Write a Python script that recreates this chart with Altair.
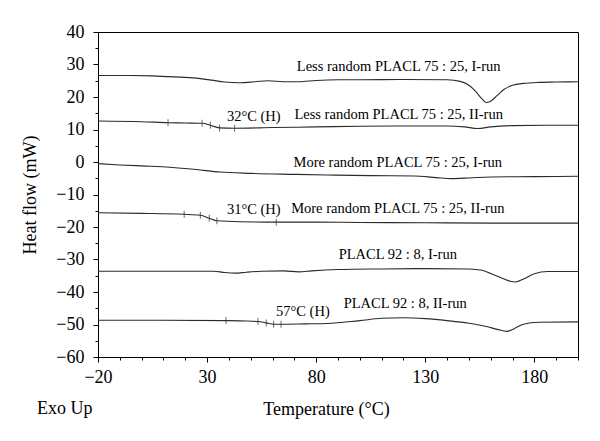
import altair as alt
import pandas as pd

FONT = "Liberation Serif"

# ---------------- data ----------------
series_names = [
    "Less random I-run", "Less random II-run", "More random I-run",
    "More random II-run", "PLACL 92:8 I-run", "PLACL 92:8 II-run",
]

x1 = [-20, -5, 5, 15, 25, 32, 38, 45, 52, 58, 65, 72, 80, 90, 100, 120, 140, 146, 150, 153, 156, 158, 160, 163, 166, 170, 175, 182, 190, 200]
y1 = [26.6, 26.6, 26.5, 26.2, 25.8, 25.2, 24.6, 24.4, 24.7, 25.0, 24.7, 24.7, 25.1, 25.3, 25.3, 25.4, 25.3, 24.8, 23.6, 21.8, 19.4, 18.3, 18.7, 20.5, 22.3, 23.6, 24.2, 24.5, 24.6, 24.7]

x2 = [-20, 0, 12.1, 20, 27.7, 31.5, 35.7, 42.6, 60, 80, 100, 120, 140, 148, 154, 160, 170, 185, 200]
y2 = [12.6, 12.4, 12.1, 12.0, 11.9, 11.3, 10.5, 10.4, 10.6, 10.8, 11.0, 11.1, 11.1, 10.8, 10.3, 10.8, 11.2, 11.3, 11.3]

x3 = [-20, -10, 0, 13, 25, 36, 50, 70, 85, 105, 125, 135, 142, 150, 160, 180, 200]
y3 = [-0.5, -0.9, -1.2, -1.6, -2.3, -3.1, -3.5, -3.8, -4.0, -4.2, -4.3, -4.8, -5.1, -4.9, -4.6, -4.5, -4.4]

x4 = [-20, 0, 19.5, 26.9, 31, 34.5, 45, 61.7, 80, 100, 130, 160, 200]
y4 = [-15.6, -15.8, -16.1, -16.4, -17.3, -18.1, -18.4, -18.5, -18.5, -18.6, -18.7, -18.8, -18.8]

x5 = [-20, 10, 33, 38, 43, 48, 55, 65, 72, 78, 90, 110, 130, 150, 156, 160, 165, 169, 171.5, 175, 180, 186, 200]
y5 = [-33.6, -33.6, -33.6, -34.0, -34.2, -33.9, -33.6, -33.5, -33.8, -33.5, -33.1, -32.9, -32.8, -32.9, -33.3, -34.3, -35.7, -36.7, -36.9, -36.0, -34.4, -33.7, -33.7]

x6 = [-20, 10, 38.7, 48, 53.3, 57.1, 60.5, 63.9, 75, 85, 100, 110, 120, 130, 140, 150, 158, 163, 167.5, 171, 175, 182, 200]
y6 = [-48.7, -48.7, -48.8, -48.9, -49.1, -49.5, -49.9, -49.9, -49.8, -49.7, -48.8, -48.1, -47.9, -48.2, -48.8, -49.6, -50.6, -51.5, -52.1, -51.2, -49.9, -49.3, -49.2]

# small vertical markers on the II-run curves
mark_x = [12.1, 27.7, 31.5, 35.7, 42.6, 19.5, 26.9, 31, 34.5, 61.7, 38.7, 53.3, 57.1, 60.5, 63.9]
mark_y = [12.1, 11.9, 11.3, 10.5, 10.4, -16.1, -16.4, -17.3, -18.1, -18.5, -48.8, -49.1, -49.5, -49.9, -49.9]

# curve labels
label_text = [
    "Less random PLACL 75 : 25, I-run",
    "Less random PLACL 75 : 25, II-run",
    "More random PLACL 75 : 25, I-run",
    "More random PLACL 75 : 25, II-run",
    "PLACL 92 : 8, I-run",
    "PLACL 92 : 8, II-run",
    "32°C (H)",
    "31°C (H)",
    "57°C (H)",
]
label_x = [117.8, 117.8, 117.4, 117.4, 117.4, 120.8, 51.4, 51.4, 73.9]
label_y = [29.2, 14.6, -0.3, -14.6, -28.7, -43.8, 13.75, -14.9, -46.2]

corner_text = ["Exo Up"]

x_tick_values = list(range(-20, 201, 10))
y_tick_values = list(range(-60, 41, 5))

# ---------------- build tables ----------------
xs_all = [x1, x2, x3, x4, x5, x6]
ys_all = [y1, y2, y3, y4, y5, y6]
rows = []
for name, xs, ys in zip(series_names, xs_all, ys_all):
    for xv, yv in zip(xs, ys):
        rows.append({"series": name, "T": xv, "HF": yv})
curves = pd.DataFrame(rows)
markers = pd.DataFrame({"T": mark_x, "HF": mark_y})
labels = pd.DataFrame({"T": label_x, "HF": label_y, "txt": label_text})
corner = pd.DataFrame({"txt": corner_text})

xscale = alt.Scale(domain=[-20, 200], nice=False, zero=False)
yscale = alt.Scale(domain=[-60, 40], nice=False, zero=False)

x_axis = alt.Axis(
    values=x_tick_values,
    labelExpr="(datum.value + 20) % 50 === 0 ? datum.label : ''",
    tickSize={"condition": {"test": "(datum.value + 20) % 50 === 0", "value": 5}, "value": 3},
    title="Temperature (°C)",
    titleX=228, titleY=52, titleBaseline="middle", titleAlign="center",
    labelPadding=6, labelFontSize=18, titleFontSize=18, labelFlush=False, grid=False,
)
y_axis = alt.Axis(
    values=y_tick_values,
    labelExpr="datum.value % 10 === 0 ? datum.label : ''",
    tickSize={"condition": {"test": "datum.value % 10 === 0", "value": 5}, "value": 3},
    title="Heat flow (mW)",
    titleX=-68, titleY=162.5, titleBaseline="middle", titleAlign="center", titleAngle=270,
    labelPadding=9, labelFontSize=18, titleFontSize=18, labelFlush=False, grid=False,
)

X = alt.X("T:Q", scale=xscale, axis=x_axis)
Y = alt.Y("HF:Q", scale=yscale, axis=y_axis)

lines = alt.Chart(curves).mark_line(color="#2b2b2b", strokeWidth=1.1, interpolate="monotone").encode(
    x=X, y=Y, detail="series:N",
)

ticks = alt.Chart(markers).mark_tick(orient="vertical", size=7, thickness=1, color="#2b2b2b").encode(
    x=X, y=Y,
)

texts = alt.Chart(labels).mark_text(font=FONT, fontSize=14.5, color="black", baseline="middle").encode(
    x=X, y=Y, text="txt:N",
)

exo = alt.Chart(corner).mark_text(font=FONT, fontSize=18, color="black", align="left", baseline="middle").encode(
    x=alt.value(-61), y=alt.value(377), text="txt:N",
)

chart = alt.layer(lines, ticks, texts, exo).properties(
    width=480, height=325,
    padding={"left": 90, "top": 24, "right": 14, "bottom": 70},
    autosize=alt.AutoSizeParams(type="none"),
).configure_view(
    stroke="black", strokeWidth=1,
).configure_axis(
    domainColor="black", tickColor="black", labelColor="black", titleColor="black",
    labelFont=FONT, titleFont=FONT, titleFontWeight="normal", domainWidth=1, tickWidth=1,
)

chart.save("out.html", embed_options={"renderer": "svg", "actions": False})
